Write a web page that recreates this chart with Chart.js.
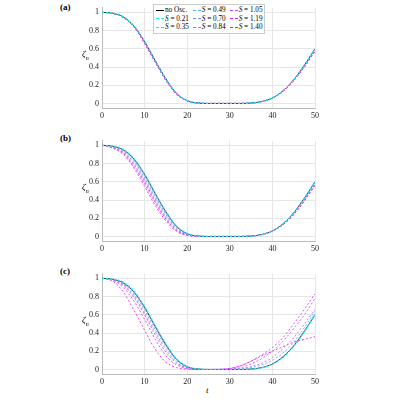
<!DOCTYPE html><html><head><script src="https://cdn.jsdelivr.net/npm/chart.js@4"></script>
<style>body{margin:0;width:400px;height:400px;position:relative;background:#fff;font-family:"Liberation Serif",serif}
canvas{position:absolute;left:0}.lb{position:absolute;left:60px;font-size:9px;font-weight:bold}
.yl{position:absolute;left:82px;font-size:9px;font-style:italic;z-index:2}
#leg{position:absolute;left:153px;top:4px;background:#fff;border:1px solid #ccc;font-size:7.2px;line-height:8.6px;padding:1px 2px;display:grid;grid-template-columns:auto auto auto;column-gap:4px;z-index:2}
#leg span i{display:inline-block;width:8px;border-top:1px dashed;vertical-align:middle;margin-right:1px}</style></head><body>
<div id="leg"></div>
<div class="lb" style="top:2px">(a)</div><div class="lb" style="top:133px">(b)</div><div class="lb" style="top:266px">(c)</div>
<div class="yl" style="top:49px">ζ<sub style="font-size:6px">n</sub></div><div class="yl" style="top:182px">ζ<sub style="font-size:6px">n</sub></div><div class="yl" style="top:315px">ζ<sub style="font-size:6px">n</sub></div>
<div style="position:absolute;left:206px;top:385px;font-size:9px;font-style:italic">t</div>
<script>
const t=[0,2.5,5,7.5,10,12.5,15,17.5,20,22.5,25,27.5,30,32.5,35,37.5,40,42.5,45,47.5,50];
const noOsc=[1,0.99,0.95,0.85,0.68,0.47,0.27,0.11,0.03,0.005,0,0,0,0,0.005,0.02,0.06,0.14,0.26,0.42,0.6];
const sLabels=["0.21","0.35","0.49","0.70","0.84","1.05","1.19","1.40"];
const panelA=[
[1,0.99,0.95,0.85,0.68,0.47,0.27,0.11,0.03,0.005,0,0,0,0,0.005,0.02,0.06,0.14,0.26,0.42,0.6],
[1,0.99,0.95,0.85,0.68,0.47,0.27,0.11,0.03,0.005,0,0,0,0,0.005,0.02,0.06,0.14,0.26,0.42,0.6],
[1,0.99,0.95,0.85,0.68,0.47,0.27,0.11,0.03,0.005,0,0,0,0,0.005,0.02,0.06,0.14,0.26,0.42,0.6],
[1,0.99,0.95,0.85,0.67,0.46,0.26,0.11,0.03,0.005,0,0,0,0,0.005,0.02,0.06,0.14,0.26,0.42,0.59],
[1,0.99,0.95,0.85,0.67,0.46,0.26,0.11,0.03,0.005,0,0,0,0,0.005,0.02,0.06,0.14,0.26,0.41,0.59],
[1,0.99,0.95,0.84,0.67,0.46,0.26,0.1,0.03,0.005,0,0,0,0,0.005,0.02,0.06,0.14,0.26,0.41,0.58],
[1,0.99,0.95,0.84,0.66,0.45,0.26,0.1,0.03,0.005,0,0,0,0,0.005,0.02,0.06,0.14,0.25,0.4,0.58],
[1,0.99,0.94,0.84,0.66,0.45,0.25,0.1,0.03,0.005,0,0,0,0,0.005,0.02,0.06,0.13,0.25,0.4,0.57]];
const panelB=[
[1,0.99,0.96,0.86,0.69,0.48,0.28,0.12,0.035,0.006,0,0,0,0,0.005,0.02,0.06,0.14,0.26,0.42,0.6],
[1,0.99,0.95,0.85,0.68,0.47,0.27,0.11,0.03,0.005,0,0,0,0,0.005,0.02,0.06,0.14,0.26,0.42,0.6],
[1,0.99,0.95,0.84,0.66,0.45,0.25,0.1,0.028,0.004,0,0,0,0,0.005,0.02,0.06,0.14,0.26,0.41,0.59],
[1,0.99,0.94,0.83,0.64,0.43,0.24,0.09,0.025,0.004,0,0,0,0,0.005,0.02,0.06,0.14,0.25,0.41,0.59],
[1,0.98,0.93,0.81,0.62,0.41,0.22,0.08,0.02,0.003,0,0,0,0,0.005,0.02,0.06,0.13,0.25,0.4,0.58],
[1,0.98,0.92,0.79,0.6,0.39,0.2,0.07,0.018,0.003,0,0,0,0,0.005,0.02,0.06,0.13,0.25,0.4,0.57],
[1,0.98,0.91,0.77,0.58,0.37,0.19,0.065,0.015,0.002,0,0,0,0,0.006,0.02,0.06,0.13,0.24,0.39,0.57],
[1,0.97,0.9,0.75,0.55,0.34,0.17,0.055,0.012,0.002,0,0,0,0,0.006,0.02,0.06,0.13,0.24,0.39,0.56]];
const panelC=[
[1,0.99,0.96,0.87,0.7,0.49,0.29,0.12,0.035,0.006,0,0,0,0,0.004,0.018,0.055,0.13,0.25,0.41,0.6],
[1,0.99,0.96,0.86,0.69,0.48,0.28,0.115,0.032,0.005,0,0,0,0,0.004,0.018,0.055,0.13,0.25,0.41,0.6],
[1,0.99,0.95,0.85,0.68,0.47,0.27,0.11,0.03,0.005,0,0,0,0,0.005,0.02,0.06,0.14,0.26,0.42,0.61],
[1,0.99,0.94,0.83,0.65,0.44,0.25,0.1,0.025,0.003,0,0,0,0.005,0.02,0.05,0.1,0.18,0.3,0.46,0.64],
[1,0.99,0.93,0.81,0.62,0.41,0.22,0.08,0.02,0.002,0,0,0,0.01,0.03,0.07,0.13,0.23,0.35,0.5,0.66],
[1,0.98,0.92,0.79,0.6,0.38,0.19,0.07,0.015,0.001,0,0,0.005,0.02,0.06,0.12,0.2,0.31,0.45,0.6,0.78],
[1,0.98,0.9,0.75,0.55,0.33,0.15,0.05,0.01,0,0,0,0.01,0.04,0.09,0.16,0.24,0.35,0.5,0.66,0.83],
[1,0.97,0.85,0.65,0.43,0.22,0.08,0.02,0.005,0,0,0.002,0.012,0.04,0.09,0.15,0.2,0.25,0.3,0.33,0.36]];
const cols=sLabels.map((_,i)=>{const r=Math.round(255*i/7);return `rgb(${r},${255-r},255)`;});
const leg=document.getElementById('leg');
const order=[[null,2,5],[0,3,6],[1,4,7]];
order.forEach(row=>row.forEach(i=>{const s=document.createElement('span');
 if(i===null)s.innerHTML='<i style="border-top:1px solid #000"></i>no Osc.';
 else s.innerHTML=`<i style="border-color:${cols[i]}"></i><em>S</em> = ${sLabels[i]}`;leg.appendChild(s);}));
const FF="'Liberation Serif', serif";
function mk(top,series){
 const c=document.createElement('canvas');c.style.top=top+'px';c.width=400;c.height=133;c.style.width='400px';c.style.height='133px';document.body.appendChild(c);
 const ds=series.map((d,i)=>({data:d,borderColor:cols[i],borderDash:[2,2],borderWidth:0.8,pointRadius:0,tension:0.4,cubicInterpolationMode:'monotone'}));
 ds.push({data:noOsc,borderColor:'#000',borderWidth:0.8,pointRadius:0,tension:0.4,cubicInterpolationMode:'monotone'});
 new Chart(c,{type:'line',data:{labels:t,datasets:ds.map(d=>({...d,data:d.data.map((y,k)=>({x:t[k],y}))}))},
 options:{responsive:false,animation:false,devicePixelRatio:1,layout:{padding:{top:5,right:85,left:0,bottom:0}},
  plugins:{legend:{display:false},tooltip:{enabled:false}},
  scales:{x:{type:'linear',min:0,max:50,ticks:{stepSize:10,font:{family:FF,size:8},color:'#222',maxRotation:0},grid:{color:'#e6e6e6',tickLength:0},border:{color:'#bbb'},afterFit:a=>{a.height=25}},
   y:{min:-0.05,max:1.05,afterBuildTicks:a=>{a.ticks=[0,0.2,0.4,0.6,0.8,1].map(v=>({value:v}))},ticks:{font:{family:FF,size:8},color:'#222',callback:v=>String(v)},grid:{color:'#e6e6e6',tickLength:0},border:{color:'#bbb'},afterFit:a=>{a.width=102}}}}});
}
mk(0,panelA);mk(133,panelB);mk(266,panelC);
</script></body></html>
